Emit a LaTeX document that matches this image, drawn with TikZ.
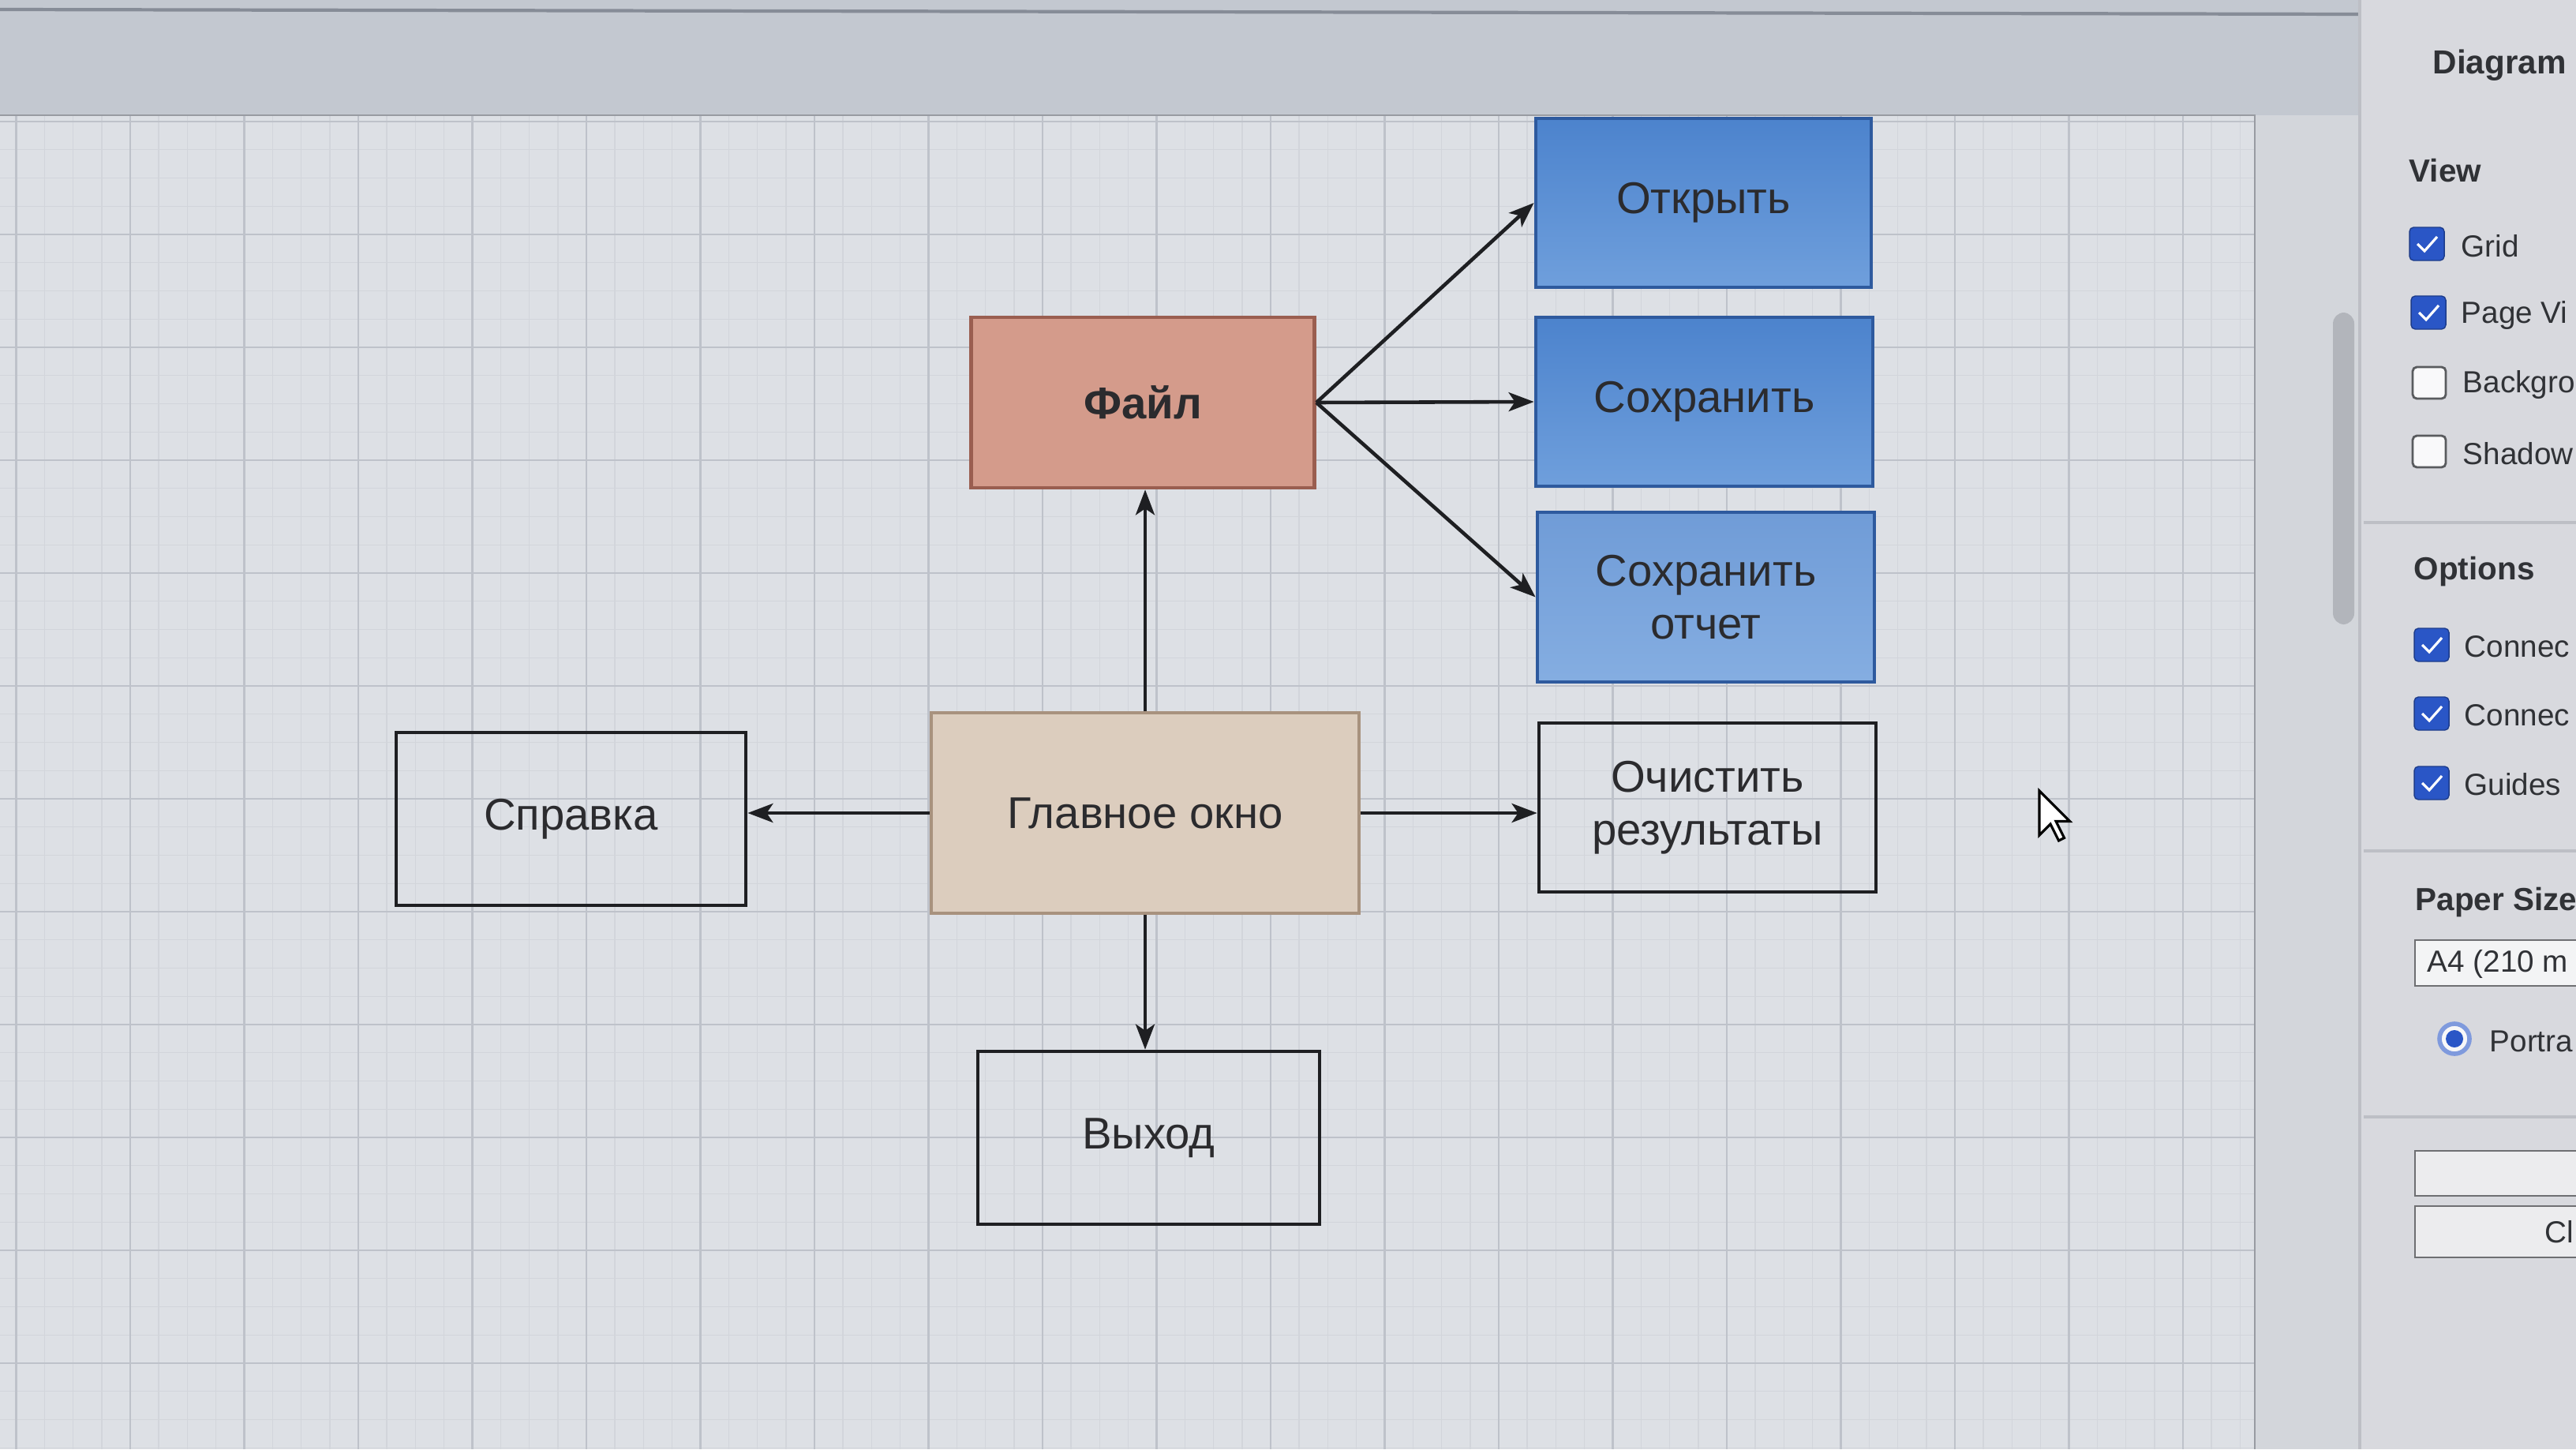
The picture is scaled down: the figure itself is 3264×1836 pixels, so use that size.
\documentclass[tikz,border=0pt]{standalone}
\usepackage{fontspec}
\setmainfont{Liberation Sans}
\usetikzlibrary{arrows.meta,calc}
\definecolor{topbg}{HTML}{C3C8D0}
\definecolor{topline}{HTML}{868C97}
\definecolor{canvasbg}{HTML}{DDE0E5}
\definecolor{minorgrid}{HTML}{D2D5DB}
\definecolor{majorgrid}{HTML}{BEC2CA}
\definecolor{outsidebg}{HTML}{D3D6DB}
\definecolor{panelbg}{HTML}{D8D9DE}
\definecolor{panelline}{HTML}{BDBFC5}
\definecolor{paneltxt}{HTML}{303236}
\definecolor{txt}{HTML}{2B2B2E}
\definecolor{bluetop}{HTML}{4C83CD}
\definecolor{bluebot}{HTML}{6F9FDC}
\definecolor{blueborder}{HTML}{2E5A9E}
\definecolor{filefill}{HTML}{D49B8B}
\definecolor{fileborder}{HTML}{9A5E50}
\definecolor{mainfill}{HTML}{DCCDBE}
\definecolor{mainborder}{HTML}{A8927E}
\definecolor{plainborder}{HTML}{1E1F22}
\definecolor{cbblue}{HTML}{2A56C6}
\definecolor{scrollc}{HTML}{B2B5BB}
\tikzset{
  box/.style={draw, line width=1.3pt, inner sep=0pt, align=center,
    font=\fontsize{16}{19}\selectfont, text=txt},
  bluebox/.style={box, draw=blueborder, top color=bluetop, bottom color=bluebot},
  filebox/.style={box, draw=fileborder, fill=filefill, font=\fontsize{16}{19}\selectfont\bfseries},
  mainbox/.style={box, draw=mainborder, fill=mainfill},
  plainbox/.style={box, draw=plainborder},
  conn/.style={draw=plainborder, line width=1.3pt,
    -{Stealth[length=0.32cm, width=0.24cm, inset=0.08cm]}},
  ptitle/.style={anchor=west, inner sep=0pt, text=paneltxt,
    font=\fontsize{11.5}{13}\selectfont\bfseries},
  plabel/.style={anchor=west, inner sep=0pt, text=paneltxt,
    font=\fontsize{11}{13}\selectfont},
  cbon/.style={fill=cbblue, draw=cbblue!70!black, line width=0.4pt, rounded corners=1.5pt},
  cboff/.style={fill=white!85!panelbg, draw=paneltxt!80, line width=0.8pt, rounded corners=1.5pt},
}
\begin{document}
\begin{tikzpicture}[x=0.01cm, y=-0.01cm]
\useasboundingbox (0,0) rectangle (3264,1836);
% toolbar area
\fill[topbg] (0,0) rectangle (2990,146);
\draw[topline, line width=1.2pt] (0,12) -- (2990,18);
% canvas
\fill[canvasbg] (0,146) rectangle (2857,1836);
\fill[outsidebg] (2857,146) rectangle (2990,1836);
\begin{scope}
  \clip (0,146) rectangle (2857,1836);
  \foreach \i in {-1,...,80} {
    \draw[minorgrid, line width=0.4pt] ({20.5+\i*36.125},146) -- ({20.5+\i*36.125},1836);
  }
  \foreach \j in {-1,...,48} {
    \draw[minorgrid, line width=0.4pt] (0,{154+\j*35.75}) -- (2857,{154+\j*35.75});
  }
  \foreach \i in {0,...,20} {
    \draw[majorgrid, line width=0.6pt] ({20.5+\i*144.5},146) -- ({20.5+\i*144.5},1836);
  }
  \foreach \j in {0,...,12} {
    \draw[majorgrid, line width=0.6pt] (0,{154+\j*143}) -- (2857,{154+\j*143});
  }
\end{scope}
\draw[majorgrid!80!black, line width=0.8pt] (0,146) -- (2857,146) -- (2857,1836);
% scrollbar
\fill[scrollc, rounded corners=4pt] (2956,396) rectangle (2983,791);
% side panel
\fill[panelbg] (2990,0) rectangle (3264,1836);
\draw[panelline, line width=1pt] (2990,0) -- (2990,1836);
\node[ptitle, font=\fontsize{12}{14}\selectfont\bfseries] (pdiagram) at (3082,83) {Diagram};
\node[ptitle] (pview) at (3052,216) {View};
\draw[cbon] (3053,288) rectangle (3097,330);
\draw[white, line width=0.9pt] (3063,309) -- (3072,318) -- (3088,300);
\node[plabel] (pgrid) at (3118,312) {Grid};
\draw[cbon] (3055,375) rectangle (3099,417);
\draw[white, line width=0.9pt] (3065,396) -- (3074,405) -- (3090,387);
\node[plabel] (ppage) at (3118,399) {Page Vi};
\draw[cboff] (3057,465) rectangle (3099,505);
\node[plabel] (pback) at (3120,487) {Backgro};
\draw[cboff] (3057,552) rectangle (3099,592);
\node[plabel] (pshadow) at (3120,575) {Shadow};
\draw[panelline, line width=1pt] (2995,662) -- (3264,662);
\node[ptitle] (poptions) at (3058,724) {Options};
\draw[cbon] (3059,796) rectangle (3103,838);
\draw[white, line width=0.9pt] (3069,817) -- (3078,826) -- (3094,808);
\node[plabel] (pconn1) at (3122,819) {Connec};
\draw[cbon] (3059,883) rectangle (3103,925);
\draw[white, line width=0.9pt] (3069,904) -- (3078,913) -- (3094,895);
\node[plabel] (pconn2) at (3122,906) {Connec};
\draw[cbon] (3059,971) rectangle (3103,1013);
\draw[white, line width=0.9pt] (3069,992) -- (3078,1001) -- (3094,983);
\node[plabel] (pguides) at (3122,994) {Guides};
\draw[panelline, line width=1pt] (2995,1078) -- (3264,1078);
\node[ptitle] (ppaper) at (3060,1143) {Paper Size};
\fill[white!70!panelbg] (3060,1191) rectangle (3264,1249);
\draw[paneltxt!70, line width=0.8pt] (3264,1191) -- (3060,1191) -- (3060,1249) -- (3264,1249);
\node[plabel] (pa4) at (3075,1221) {A4 (210 m};
\draw[cbblue!60!white, line width=1.6pt, fill=white!80!panelbg] (3110,1316) circle (19);
\fill[cbblue] (3110,1316) circle (11);
\node[plabel] (pportrait) at (3154,1319) {Portra};
\draw[panelline, line width=1pt] (2995,1415) -- (3264,1415);
\fill[white!50!panelbg] (3060,1458) rectangle (3264,1515);
\draw[paneltxt!70, line width=0.8pt] (3264,1458) -- (3060,1458) -- (3060,1515) -- (3264,1515);
\fill[white!50!panelbg] (3060,1528) rectangle (3264,1593);
\draw[paneltxt!70, line width=0.8pt] (3264,1528) -- (3060,1528) -- (3060,1593) -- (3264,1593);
\node[plabel] (pclear) at (3224,1561) {Cl};
% diagram nodes
\node[bluebox, minimum width=4.25cm, minimum height=2.14cm] (open) at (2158.5,257) {Открыть};
\node[bluebox, minimum width=4.27cm, minimum height=2.14cm] (save) at (2159.5,509) {Сохранить};
\node[bluebox, minimum width=4.27cm, minimum height=2.15cm, top color=bluetop!80!white, bottom color=bluebot!85!white] (report) at (2161.5,756.5) {Сохранить\\отчет};
\node[filebox, minimum width=4.35cm, minimum height=2.16cm] (file) at (1448,510) {Файл};
\node[mainbox, minimum width=5.42cm, minimum height=2.54cm] (main) at (1451,1030) {Главное окно};
\node[plainbox, minimum width=4.43cm, minimum height=2.19cm] (help) at (723.5,1037.5) {Справка};
\node[plainbox, minimum width=4.27cm, minimum height=2.14cm] (clear) at (2163.5,1023) {Очистить\\результаты};
\node[plainbox, minimum width=4.33cm, minimum height=2.19cm] (exit) at (1455.5,1441.5) {Выход};
% connectors
\draw[conn] (main.north) -- (main.north |- file.south);
\draw[conn] (main.west) -- (main.west -| help.east);
\draw[conn] (main.east) -- (main.east -| clear.west);
\draw[conn] (main.south) -- (main.south |- exit.north);
\draw[conn] (file.east) -- (open.west);
\draw[conn] (file.east) -- (save.west);
\draw[conn] (file.east) -- (report.west);
% mouse cursor
\draw[fill=white, draw=black, line width=0.9pt, line join=miter]
  (2584,1002) -- ++(0,56) -- ++(14,-14) -- ++(10.5,21) -- ++(7,-3.5) -- ++(-10.5,-21) -- ++(17.5,0) -- cycle;
\end{tikzpicture}
\end{document}
